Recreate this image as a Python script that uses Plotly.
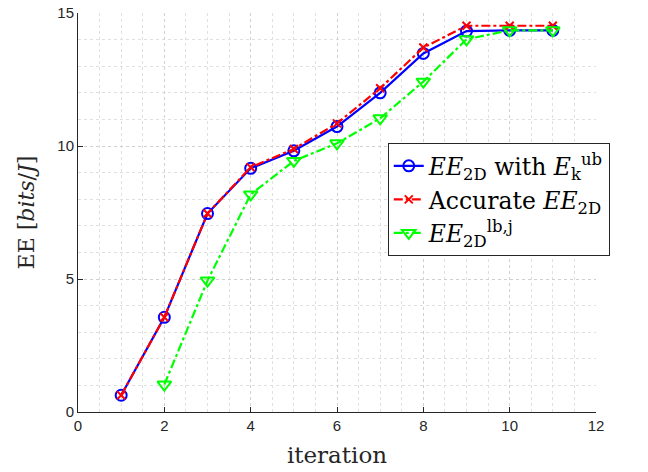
import plotly.graph_objects as go

iterations = [1, 2, 3, 4, 5, 6, 7, 8, 9, 10, 11]
ee_ub = [0.63, 3.56, 7.46, 9.16, 9.82, 10.73, 12.0, 13.48, 14.32, 14.35, 14.35]
ee_acc = [0.63, 3.56, 7.46, 9.2, 9.89, 10.85, 12.17, 13.7, 14.52, 14.52, 14.52]
iter_lb = [2, 3, 4, 5, 6, 7, 8, 9, 10, 11]
ee_lb = [1.03, 4.94, 8.18, 9.44, 10.1, 11.04, 12.42, 14.01, 14.35, 14.35]

x_ticks = [0, 2, 4, 6, 8, 10, 12]
y_ticks = [0, 5, 10, 15]

serif = "DejaVu Serif"
axis_col = "#262626"

fig = go.Figure()
fig.add_trace(go.Scatter(
    x=iterations, y=ee_ub, mode="lines+markers",
    name="<i>EE</i><sub>2D</sub> with <i>E</i><sub>k</sub><sup>ub</sup>",
    line=dict(color="#0000ff", width=2.2, dash="solid"),
    marker=dict(symbol="circle-open", size=11, color="#0000ff", line=dict(width=2))))
fig.add_trace(go.Scatter(
    x=iterations, y=ee_acc, mode="lines+markers",
    name="Accurate <i>EE</i><sub>2D</sub>",
    line=dict(color="#ff0000", width=2.2, dash="dashdot"),
    marker=dict(symbol="x-thin-open", size=8, color="#ff0000", line=dict(width=2, color="#ff0000"))))
fig.add_trace(go.Scatter(
    x=iter_lb, y=ee_lb, mode="lines+markers",
    name="<i>EE</i><sub>2D</sub><sup>lb,j</sup>",
    line=dict(color="#00ff00", width=2.2, dash="dashdot"),
    marker=dict(symbol="triangle-down-open", size=12, color="#00ff00", line=dict(width=2))))

fig.update_layout(
    width=648, height=472,
    margin=dict(l=78, r=52, t=13, b=60),
    paper_bgcolor="white", plot_bgcolor="white",
    showlegend=True,
    legend=dict(x=0.598, y=0.674, xanchor="left", yanchor="top",
                bgcolor="white", bordercolor=axis_col, borderwidth=1,
                font=dict(family=serif, size=23.5, color="black"),
                tracegroupgap=0),
    xaxis=dict(range=[0, 12], tickvals=x_ticks, ticks="inside", ticklen=5,
               tickcolor=axis_col, showline=True, linecolor=axis_col, linewidth=1,
               showgrid=True, gridcolor="#d0d0d0", griddash="dot", gridwidth=1,
               minor=dict(dtick=0.5, showgrid=True, gridcolor="#e0e0e0", griddash="dot", ticks=""),
               zeroline=False, automargin=False,
               tickfont=dict(family="Liberation Sans", size=15, color=axis_col),
               title=dict(text="iteration", font=dict(family=serif, size=23, color=axis_col), standoff=13)),
    yaxis=dict(range=[0, 15], tickvals=y_ticks, ticks="inside", ticklen=5,
               tickcolor=axis_col, showline=True, linecolor=axis_col, linewidth=1,
               showgrid=True, gridcolor="#d0d0d0", griddash="dot", gridwidth=1,
               minor=dict(dtick=1, showgrid=True, gridcolor="#e0e0e0", griddash="dot", ticks=""),
               zeroline=False, automargin=False,
               tickfont=dict(family="Liberation Sans", size=15, color=axis_col),
               title=dict(text="EE [<i>bits</i>/<i>J</i>]", font=dict(family=serif, size=22, color=axis_col), standoff=16)),
)

fig.write_html("out.html")
